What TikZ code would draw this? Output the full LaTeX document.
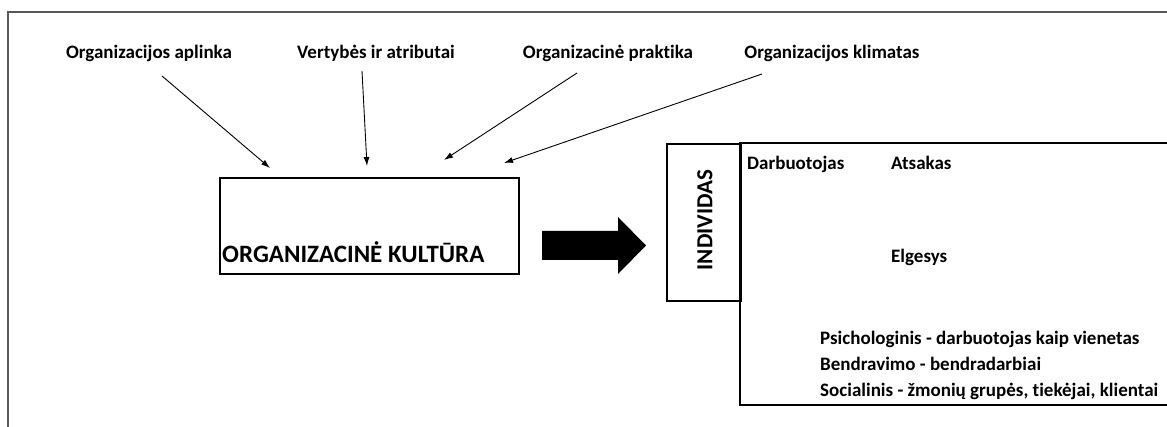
\documentclass[tikz,border=0pt]{standalone}
\usepackage{fontspec}
\setmainfont{Carlito}[Ligatures=NoCommon]
\usetikzlibrary{arrows.meta}
\begin{document}
\begin{tikzpicture}[x=1pt,y=-1pt,
  lbl/.style={font=\fontsize{19}{21}\selectfont\bfseries, inner sep=0pt},
  feed/.style={-{Latex[length=9pt,width=6pt]}, line width=0.9pt},
  frame/.style={draw=black!65, line width=2pt},
  boxline/.style={draw=black, line width=2pt, inner sep=0pt}]
\useasboundingbox (0,0) rectangle (1167,427);

% page frame (top and left edges only)
\draw[frame] (8,440) -- (8,12.5) -- (1180,12.5);

% influencing factors
\node[lbl] (env)  at (149,53) {Organizacijos aplinka};
\node[lbl] (val)  at (376,53) {Vertybės ir atributai};
\node[lbl] (prac) at (608,53) {Organizacinė praktika};
\node[lbl] (clim) at (832,53) {Organizacijos klimatas};

% organisational culture box
\node[boxline, anchor=north west, minimum width=299pt, minimum height=96pt] (culture) at (219,177) {};
\node[font=\fontsize{25}{27}\selectfont\bfseries, inner sep=0pt, anchor=base west] (culturetxt) at (222,263) {ORGANIZACINĖ KULTŪRA};

% feed arrows
\coordinate (e1) at (162,76);  \coordinate (f1) at (270,168);
\coordinate (e2) at (362,71);  \coordinate (f2) at (367,166);
\coordinate (e3) at (577,73);  \coordinate (f3) at (444,160);
\coordinate (e4) at (762,74);  \coordinate (f4) at (504,163);
\draw[feed] (e1) -- (f1);
\draw[feed] (e2) -- (f2);
\draw[feed] (e3) -- (f3);
\draw[feed] (e4) -- (f4);

% block arrow
\fill[black] (542,231) -- (618,231) -- (618,217) -- (646,245.5) -- (618,274) -- (618,260) -- (542,260) -- cycle;

% individual box
\node[boxline, anchor=north west, minimum width=74pt, minimum height=157pt] (indiv) at (666,143) {};
\node[font=\fontsize{23}{25}\selectfont\bfseries, inner sep=0pt, rotate=90] (indivtxt) at (705,220) {INDIVIDAS};
\draw[boxline] (1180,143) -- (740,143) -- (740,405) -- (1180,405);

% contents
\node[lbl, anchor=mid west] (emp)  at (747,167) {Darbuotojas};
\node[lbl, anchor=mid west] (resp) at (891,167) {Atsakas};
\node[lbl, anchor=mid west] (beh)  at (891,260) {Elgesys};
\node[lbl, anchor=mid west] (psy)  at (820,342) {Psichologinis - darbuotojas kaip vienetas};
\node[lbl, anchor=mid west] (comm) at (820,368) {Bendravimo - bendradarbiai};
\node[lbl, anchor=mid west] (soc)  at (820,394) {Socialinis - žmonių grupės, tiekėjai, klientai};
\end{tikzpicture}
\end{document}
